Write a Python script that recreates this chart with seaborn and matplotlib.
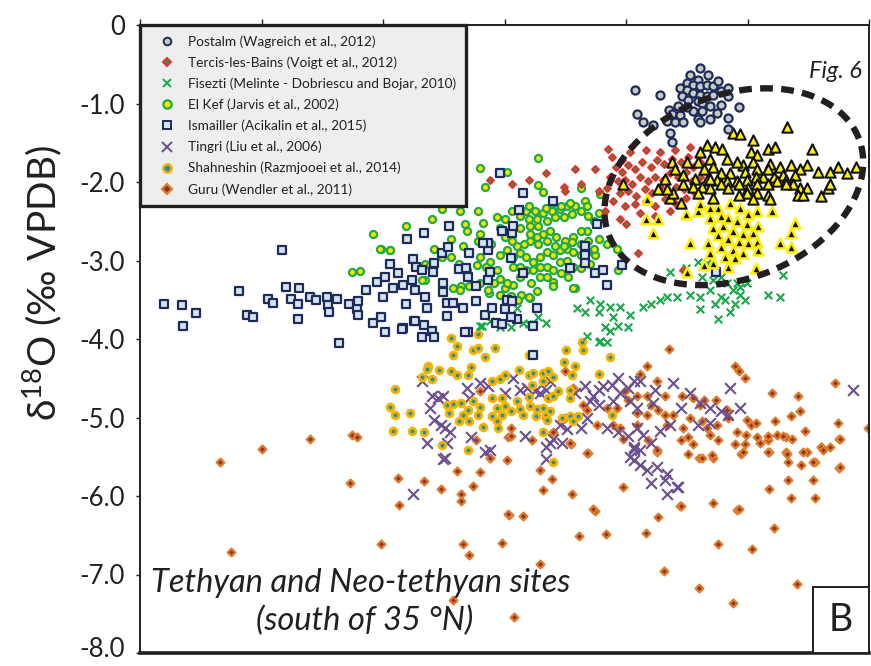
import numpy as np
import pandas as pd
import matplotlib
matplotlib.use("Agg")
import matplotlib.pyplot as plt
import matplotlib.transforms as mtransforms
import seaborn as sns
from matplotlib.lines import Line2D
from matplotlib.patches import Rectangle

# ---------------- data (x: unlabelled axis units, y: d18O permil VPDB) ----------------
postalm_x = [4.60, 4.67, 4.52, 4.58, 4.49, 4.54, 4.60, 4.66, 4.71, 4.75, 4.43, 4.49, 4.54, 4.60, 4.66,
             4.71, 4.77, 4.83, 4.45, 4.50, 4.58, 4.62, 4.68, 4.74, 4.42, 4.34, 4.37, 4.43, 4.33, 4.39,
             4.46, 4.58, 4.60, 4.83, 4.83, 4.92, 4.83, 4.06, 4.27, 4.08, 4.13, 4.21, 4.35, 4.37, 4.54,
             4.62, 4.49, 4.77, 4.68]
postalm_y = [-0.55, -0.64, -0.64, -0.70, -0.74, -0.76, -0.78, -0.76, -0.78, -0.71, -0.80, -0.83, -0.87, -0.89, -0.90,
             -0.89, -0.84, -0.80, -0.90, -0.95, -0.97, -0.99, -1.03, -1.12, -1.03, -1.08, -1.14, -1.15, -1.22, -1.24,
             -1.24, -1.20, -1.24, -0.90, -1.18, -1.05, -1.33, -0.83, -0.89, -1.14, -1.24, -1.27, -1.37, -1.49, -1.09,
             -1.09, -1.05, -1.02, -1.20]

tercis_x = [3.04, 3.18, 3.47, 3.56, 3.61, 3.73, 3.48, 3.84, 3.95, 3.88, 3.94, 3.99, 4.09, 4.46, 2.86, 3.32,
            3.76, 3.81, 3.85, 3.90, 3.95, 4.00, 4.06, 4.12, 4.19, 4.24, 4.30, 4.37, 4.44, 4.50, 3.92, 3.98,
            4.04, 4.10, 4.17, 4.23, 4.29, 4.35, 4.42, 4.48, 4.54, 3.94, 4.00, 4.07, 4.14, 4.20, 4.27, 4.34,
            4.40, 4.47, 4.53, 4.60, 3.98, 4.06, 4.15, 4.23, 4.31, 4.39, 4.48, 4.56, 4.10, 4.23, 4.35, 3.87,
            4.02, 4.15, 4.27, 4.39, 4.52, 4.60, 3.83]
tercis_y = [-2.03, -1.97, -2.06, -1.83, -2.02, -1.83, -2.11, -1.58, -1.72, -2.24, -2.47, -2.53, -2.90, -3.12, -1.97, -1.89,
            -2.12, -2.37, -1.93, -1.81, -1.87, -1.78, -1.84, -1.74, -1.81, -1.72, -1.77, -1.71, -1.74, -1.68, -1.99, -1.97,
            -2.02, -1.94, -1.99, -1.93, -1.97, -1.89, -1.94, -1.87, -1.81, -2.14, -2.12, -2.18, -2.09, -2.14, -2.07, -2.12,
            -2.06, -2.09, -1.99, -1.93, -2.31, -2.28, -2.24, -2.31, -2.22, -2.27, -2.21, -2.14, -2.40, -2.43, -2.37, -1.68,
            -1.62, -1.59, -1.62, -1.59, -1.55, -1.74, -2.08]

fisezti_x = [2.79, 2.94, 3.03, 3.08, 3.18, 3.26, 3.32, 3.13, 3.22, 2.78, 2.86, 3.58, 3.65, 3.66, 3.76, 3.77,
             3.81, 3.85, 3.85, 3.88, 3.77, 3.83, 3.76, 3.92, 4.00, 3.69, 3.94, 4.13, 4.33, 4.41, 4.60, 4.77,
             4.93, 4.87, 4.93, 4.91, 4.82, 4.71, 4.62, 4.58, 4.66, 4.35, 4.48, 4.77, 4.99, 5.29, 5.16, 5.26,
             4.75, 4.52, 4.68, 4.81, 4.89, 4.72, 4.60, 4.85, 4.97, 4.27, 4.19, 4.02]
fisezti_y = [-3.84, -3.85, -3.85, -3.60, -3.81, -3.72, -3.80, -3.80, -3.81, -3.84, -3.77, -3.60, -3.66, -3.96, -3.65, -3.56,
             -3.85, -3.59, -3.90, -3.72, -4.03, -4.04, -4.04, -3.84, -3.85, -3.50, -3.59, -3.59, -3.46, -3.47, -3.47, -3.46,
             -3.44, -3.37, -3.34, -3.29, -3.29, -3.25, -3.21, -3.02, -3.03, -3.15, -3.10, -3.21, -3.29, -3.19, -3.44, -3.46,
             -3.75, -3.44, -3.37, -3.50, -3.56, -3.56, -3.62, -3.65, -3.50, -3.50, -3.56, -3.69]

elkef_x = [3.26, 2.78, 3.00, 2.82, 3.26, 3.30, 3.61, 3.77, 3.65, 2.38, 2.16, 2.03, 1.96, 2.65, 2.80, 2.76,
           2.61, 2.46, 2.67, 2.54, 2.64, 2.76, 2.87, 2.78, 2.86, 2.94, 2.75, 2.83, 2.92, 2.67, 2.60, 2.54,
           2.46, 2.40, 2.32, 2.32, 2.62, 2.69, 2.78, 2.89, 2.94, 2.98, 3.05, 3.11, 3.20, 3.25, 3.12, 2.85,
           2.94, 3.03, 3.09, 3.19, 3.27, 3.38, 3.38, 3.56, 3.61, 3.69, 3.73, 3.83, 3.91, 3.92, 3.76, 3.66,
           3.61, 3.55, 3.48, 3.41, 3.36, 3.30, 3.25, 3.19, 3.14, 3.08, 3.04, 2.98, 3.04, 3.11, 3.19, 3.26,
           3.33, 3.40, 3.47, 3.54, 3.61, 3.67, 3.72, 3.76, 3.66, 3.56, 3.50, 3.44, 3.37, 3.30, 3.23, 3.16,
           3.11, 3.04, 2.98, 2.92, 2.94, 3.00, 3.05, 3.11, 3.16, 3.22, 3.27, 3.33, 3.38, 3.44, 3.50, 3.55,
           3.61, 3.66, 3.72, 3.44, 3.50, 3.55, 3.33, 3.27, 3.22, 3.16, 3.38, 3.45, 3.51, 3.33, 3.11, 3.05,
           3.11, 3.18, 3.25, 3.32, 3.18, 3.38, 3.45, 3.52, 3.19, 3.26, 3.33, 3.40, 3.47, 3.54, 3.61, 3.67,
           1.89, 1.95, 2.03, 1.72, 1.78, 2.30, 2.36, 2.55, 2.61, 2.78, 2.84, 2.94, 3.00, 3.18, 3.55, 3.25]
elkef_y = [-1.70, -1.82, -1.87, -2.06, -2.04, -2.13, -2.08, -2.15, -2.24, -2.47, -2.56, -2.86, -2.85, -2.54, -2.52, -2.37,
           -2.37, -2.35, -2.62, -2.73, -2.81, -2.75, -2.79, -2.96, -3.02, -2.93, -3.06, -3.08, -3.12, -3.12, -3.04, -2.96,
           -2.96, -2.85, -3.04, -3.25, -3.33, -3.33, -3.29, -3.29, -3.23, -3.35, -3.31, -3.21, -3.29, -3.39, -3.44, -3.41,
           -3.44, -3.45, -3.50, -3.48, -3.21, -3.27, -3.33, -3.35, -3.10, -3.04, -2.93, -2.79, -2.85, -3.12, -2.73, -2.62,
           -2.62, -2.70, -2.75, -2.70, -2.62, -2.66, -2.70, -2.75, -2.79, -2.81, -2.75, -2.70, -2.62, -2.58, -2.56, -2.56,
           -2.50, -2.45, -2.45, -2.41, -2.37, -2.43, -2.50, -2.39, -2.31, -2.31, -2.31, -2.35, -2.37, -2.39, -2.37, -2.37,
           -2.35, -2.37, -2.47, -2.45, -2.58, -2.87, -2.96, -2.91, -2.96, -3.02, -2.96, -2.89, -2.93, -2.87, -2.85, -2.89,
           -2.93, -2.89, -2.85, -3.02, -3.00, -3.08, -3.08, -3.08, -3.12, -3.12, -3.12, -3.16, -3.21, -3.21, -3.08, -3.08,
           -2.43, -2.47, -2.47, -2.33, -2.31, -2.27, -2.31, -2.27, -2.66, -2.79, -2.75, -2.81, -2.81, -2.77, -2.79, -2.75,
           -2.66, -2.85, -2.86, -3.15, -3.14, -3.25, -3.06, -3.35, -3.37, -2.66, -3.37, -3.44, -3.29, -3.46, -3.35, -3.59]

ismailler_x = [0.16, 0.31, 0.42, 0.32, 0.78, 0.85, 0.90, 1.14, 1.02, 1.06, 1.17, 1.21, 1.28, 1.27, 1.27, 1.37,
               1.42, 1.51, 1.52, 1.53, 1.59, 1.61, 1.69, 1.76, 1.77, 1.77, 1.83, 1.89, 1.96, 1.99, 1.92, 1.97,
               1.99, 2.06, 2.03, 2.10, 2.14, 2.16, 2.14, 2.22, 2.25, 2.21, 2.24, 2.31, 2.30, 2.32, 2.34, 2.23,
               2.31, 2.38, 2.40, 2.30, 2.17, 2.40, 2.39, 2.46, 2.51, 2.52, 2.47, 2.47, 2.50, 2.50, 2.55, 2.64,
               2.68, 2.60, 2.66, 2.69, 2.68, 2.74, 2.74, 2.82, 2.84, 2.84, 2.80, 2.86, 2.84, 2.88, 2.91, 2.96,
               2.96, 3.04, 3.05, 3.03, 3.10, 3.13, 3.00, 3.04, 2.98, 3.08, 3.03, 3.22, 3.25, 3.38, 3.52, 3.65,
               3.65, 3.65, 3.75, 3.73, 3.80, 3.83, 2.94, 3.13, 3.95, 4.73, 3.22, 2.13, 2.24, 2.65]
ismailler_y = [-3.55, -3.57, -3.67, -3.84, -3.39, -3.69, -3.72, -2.86, -3.49, -3.54, -3.34, -3.49, -3.35, -3.56, -3.74, -3.46,
               -3.50, -3.46, -3.57, -3.66, -3.49, -4.05, -3.55, -3.62, -3.69, -3.52, -3.37, -3.79, -3.72, -3.91, -3.27, -3.46,
               -3.21, -3.35, -3.05, -3.16, -3.31, -3.56, -3.86, -2.98, -3.08, -3.25, -3.37, -2.65, -3.12, -3.47, -3.60, -3.77,
               -3.82, -3.90, -3.98, -3.98, -2.73, -3.03, -3.15, -2.91, -2.83, -2.56, -3.29, -3.40, -3.54, -3.71, -3.54, -3.61,
               -3.91, -3.11, -3.10, -2.91, -3.21, -3.32, -3.52, -3.69, -2.87, -2.78, -2.78, -3.15, -3.25, -3.60, -3.79, -3.81,
               -2.62, -2.65, -2.56, -2.97, -2.36, -3.16, -3.50, -3.52, -3.62, -3.75, -3.72, -3.84, -3.60, -2.24, -3.10, -2.81,
               -2.93, -3.03, -2.53, -3.16, -3.12, -3.31, -1.89, -2.14, -3.06, -3.15, -4.21, -3.87, -3.77, -3.91]

tingri_x = [2.30, 2.38, 2.43, 2.47, 2.36, 2.40, 2.45, 2.49, 2.53, 2.34, 2.49, 2.22, 2.67, 2.69, 2.78, 2.84,
            3.05, 3.11, 3.17, 3.23, 3.27, 3.32, 3.36, 3.44, 3.61, 3.66, 3.71, 3.76, 3.80, 3.87, 3.92, 4.00,
            4.05, 4.10, 4.38, 3.76, 3.69, 3.88, 4.02, 4.08, 3.83, 3.92, 4.00, 4.08, 4.13, 4.05, 4.10, 4.05,
            4.16, 4.24, 4.19, 4.31, 4.41, 4.33, 4.19, 4.27, 4.35, 4.44, 4.58, 4.68, 4.77, 4.83, 4.85, 5.87,
            2.86, 2.50, 3.32, 3.38, 3.50, 4.21, 2.47, 2.82, 2.70, 3.15, 3.36, 3.46, 3.32, 4.02, 4.10, 4.33,
            4.42, 4.05, 2.98, 3.56, 3.65, 3.94, 4.23, 4.52, 4.60, 4.68, 4.93]
tingri_y = [-4.54, -4.73, -4.75, -4.72, -4.88, -5.03, -5.09, -5.13, -5.19, -5.32, -5.52, -5.98, -4.63, -4.75, -4.56, -4.60,
            -4.50, -4.65, -4.63, -4.66, -4.69, -4.65, -4.54, -5.09, -5.13, -5.00, -4.72, -4.65, -4.60, -4.59, -4.50, -4.63,
            -4.54, -4.53, -4.56, -4.84, -4.79, -4.79, -4.79, -4.88, -5.13, -5.19, -5.23, -5.13, -5.22, -5.40, -5.42, -5.54,
            -5.67, -5.63, -5.84, -5.79, -5.88, -5.72, -5.32, -5.17, -5.10, -4.88, -5.10, -4.88, -4.92, -4.97, -4.63, -4.65,
            -5.42, -5.32, -5.38, -5.28, -5.15, -4.82, -5.53, -5.44, -5.25, -5.23, -5.32, -5.32, -5.53, -5.50, -5.61, -5.98,
            -5.88, -5.38, -4.69, -4.69, -4.60, -4.69, -4.65, -4.69, -4.82, -5.07, -4.88]

shahneshin_x = [2.76, 2.54, 2.59, 2.72, 2.76, 2.90, 2.55, 2.82, 2.35, 2.34, 2.44, 2.54, 2.70, 2.30, 2.38, 2.59,
                2.68, 2.88, 2.94, 2.98, 3.10, 3.18, 3.18, 3.22, 3.30, 3.34, 3.38, 3.21, 3.30, 3.47, 3.49, 3.56,
                3.54, 3.62, 3.63, 3.85, 3.76, 2.07, 2.03, 2.07, 2.20, 2.06, 2.21, 2.31, 2.46, 2.68, 2.50, 2.55,
                2.62, 2.68, 2.72, 2.78, 2.52, 2.64, 2.76, 2.60, 2.69, 2.80, 2.88, 2.96, 2.92, 2.88, 2.92, 2.96,
                2.93, 2.98, 3.03, 3.08, 3.11, 3.13, 3.18, 3.19, 3.25, 3.30, 3.32, 3.36, 3.33, 3.24, 3.34, 3.38,
                3.42, 3.46, 3.52, 3.55, 3.59, 3.52, 3.52, 3.30, 3.38, 3.87]
shahneshin_y = [-3.94, -3.99, -4.09, -4.14, -4.11, -4.11, -4.20, -4.23, -4.34, -4.38, -4.39, -4.41, -4.36, -4.48, -4.51, -4.46,
                -4.46, -4.54, -4.51, -4.46, -4.40, -4.21, -4.46, -4.43, -4.43, -4.41, -4.49, -4.59, -4.54, -4.29, -4.14, -4.35,
                -4.46, -4.04, -4.14, -4.23, -4.44, -4.64, -4.87, -4.97, -4.94, -5.17, -5.17, -5.19, -5.35, -5.42, -4.84, -4.83,
                -4.82, -4.90, -4.79, -4.87, -4.94, -4.97, -4.97, -5.04, -5.04, -5.12, -4.75, -4.75, -4.88, -4.98, -5.04, -4.97,
                -5.13, -4.85, -4.92, -4.79, -4.89, -4.97, -4.74, -4.85, -4.89, -4.88, -4.97, -4.92, -5.03, -4.98, -4.75, -4.72,
                -4.66, -5.00, -4.98, -5.04, -4.98, -4.65, -4.75, -5.19, -5.57, -4.97]

guru_x = [0.62, 0.97, 1.37, 1.72, 1.76, 0.71, 1.70, 1.96, 2.10, 2.11, 2.31, 2.45, 2.55, 2.62, 2.62, 2.64,
          2.69, 2.72, 2.78, 2.86, 2.96, 3.00, 3.02, 3.06, 3.13, 3.27, 3.27, 3.30, 3.37, 3.54, 3.60, 3.73,
          3.82, 3.96, 4.15, 4.25, 4.30, 4.43, 4.59, 4.71, 4.75, 4.87, 4.91, 5.03, 5.21, 5.40, 5.55, 5.17,
          5.33, 5.75, 5.55, 5.44, 5.33, 5.17, 5.31, 5.49, 5.60, 5.75, 5.68, 4.94, 4.97, 4.59, 4.71, 4.50,
          5.16, 5.31, 4.75, 4.24, 3.96, 3.67, 3.53, 3.21, 3.01, 2.74, 4.44, 4.91, 4.98, 4.34, 4.16, 3.48,
          4.10, 4.24, 4.89, 4.92, 4.97, 5.72, 5.20, 5.41, 5.99, 2.78, 3.32, 3.46, 3.03, 3.03, 2.86, 2.59,
          3.66, 3.75, 3.66, 3.52, 3.38, 3.48, 3.55, 3.63, 3.83, 3.91, 3.88, 3.94, 3.98, 4.00, 4.08, 4.08,
          4.08, 4.16, 4.19, 4.25, 4.16, 4.17, 4.24, 4.31, 4.31, 4.33, 4.38, 4.45, 4.46, 4.52, 4.54, 4.60,
          4.63, 4.50, 4.54, 4.62, 4.66, 4.68, 4.73, 4.74, 4.70, 4.62, 4.82, 4.83, 4.89, 4.96, 4.99, 5.02,
          5.06, 5.07, 5.10, 5.16, 5.16, 5.22, 5.24, 5.29, 5.32, 5.35, 5.36, 5.43, 5.47, 5.54, 5.60, 5.62,
          5.74, 5.76, 5.45, 5.54, 5.76, 5.35, 4.44, 4.92, 3.71, 3.01]
guru_y = [-5.57, -5.40, -5.28, -5.22, -5.25, -6.71, -5.83, -6.61, -5.77, -6.12, -5.81, -5.91, -7.32, -5.98, -6.06, -6.61,
          -6.75, -5.87, -5.69, -5.52, -6.60, -5.54, -6.24, -7.54, -6.26, -5.67, -6.87, -5.92, -5.78, -5.98, -6.51, -6.19,
          -6.48, -5.88, -6.47, -6.27, -6.96, -6.13, -7.17, -6.09, -6.61, -7.36, -6.18, -6.67, -6.41, -7.12, -6.03, -5.91,
          -5.79, -5.64, -5.57, -5.61, -5.57, -5.44, -5.44, -5.44, -5.38, -5.28, -5.38, -5.47, -5.34, -5.51, -5.51, -5.47,
          -5.29, -5.25, -5.29, -5.44, -5.28, -5.45, -5.34, -5.29, -5.25, -5.29, -5.29, -5.19, -5.22, -4.13, -4.35, -4.41,
          -4.45, -4.53, -4.35, -4.41, -4.50, -4.56, -4.69, -4.72, -5.13, -4.66, -5.00, -5.03, -5.13, -5.24, -5.51, -5.68,
          -5.45, -5.09, -4.90, -5.33, -5.19, -5.00, -4.63, -4.84, -4.88, -4.88, -5.09, -5.13, -4.66, -4.78, -4.73, -4.94,
          -5.09, -4.72, -4.84, -4.90, -4.97, -5.29, -5.42, -4.73, -4.97, -5.09, -4.97, -4.73, -5.13, -5.00, -4.75, -4.84,
          -4.78, -5.25, -5.34, -5.04, -5.13, -5.22, -4.78, -5.09, -5.48, -5.51, -4.90, -5.00, -5.34, -5.44, -5.03, -5.09,
          -5.07, -5.25, -5.32, -5.23, -5.44, -5.04, -5.22, -5.23, -5.47, -4.98, -5.28, -4.92, -5.17, -5.57, -5.38, -5.42,
          -5.07, -5.28, -5.44, -5.79, -5.63, -6.03, -6.13, -6.17, -6.17, -6.23]

fig6_yellow_x = [5.32, 4.87, 4.93, 5.04, 5.53, 4.66, 4.72, 4.78, 4.60, 5.16, 5.22, 5.02, 5.07, 5.04, 4.96, 4.82,
                 4.91, 4.68, 4.58, 4.49, 4.37, 4.39, 4.63, 4.71, 4.77, 4.85, 4.97, 5.07, 5.18, 5.26, 5.35, 5.49,
                 5.58, 5.68, 5.74, 5.82, 5.89, 5.43, 5.39, 5.29, 5.21, 5.12, 5.06, 4.99, 4.91, 4.82, 4.74, 4.66,
                 4.56, 4.46, 4.31, 4.25, 4.35, 4.44, 4.46, 4.54, 4.62, 4.68, 4.77, 4.83, 4.92, 5.00, 5.07, 5.16,
                 5.24, 5.31, 5.37, 5.43, 5.49, 5.41, 5.45, 5.60, 5.66, 5.68, 3.96, 4.38, 4.58, 4.71, 4.99, 5.07,
                 5.16, 5.04, 5.18, 4.92, 4.33, 4.68, 5.16, 5.31]
fig6_yellow_y = [-1.30, -1.37, -1.39, -1.47, -1.58, -1.53, -1.55, -1.58, -1.62, -1.58, -1.55, -1.62, -1.66, -1.74, -1.78, -1.71,
                 -1.74, -1.71, -1.74, -1.74, -1.74, -1.84, -1.84, -1.81, -1.89, -1.89, -1.87, -1.84, -1.77, -1.81, -1.78, -1.78,
                 -1.87, -1.87, -1.81, -1.89, -1.81, -1.84, -1.91, -1.91, -1.93, -1.93, -1.93, -1.97, -1.99, -1.99, -1.97, -1.97,
                 -1.96, -1.91, -1.96, -2.09, -2.21, -2.27, -2.03, -2.06, -2.06, -2.08, -2.02, -2.08, -2.03, -2.08, -2.03, -2.02,
                 -1.99, -1.97, -2.02, -2.08, -2.08, -2.16, -2.16, -2.18, -2.08, -2.03, -2.03, -2.14, -2.14, -2.21, -2.14, -2.14,
                 -2.16, -2.22, -2.22, -2.16, -2.09, -1.96, -1.84, -2.03]

fig6_black_x = [4.16, 4.15, 4.25, 4.21, 4.48, 4.58, 4.75, 4.85, 4.93, 5.00, 5.07, 5.20, 4.68, 4.77, 4.83, 4.91,
                4.99, 5.08, 5.39, 5.35, 4.71, 4.79, 4.87, 4.96, 5.04, 4.75, 4.83, 4.92, 5.00, 5.07, 4.52, 4.67,
                4.77, 4.87, 4.96, 5.08, 5.26, 5.35, 4.68, 4.81, 4.89, 4.63, 4.71, 4.83, 5.06, 4.49, 4.60, 4.68]
fig6_black_y = [-2.22, -2.47, -2.47, -2.65, -2.41, -2.37, -2.33, -2.27, -2.33, -2.41, -2.37, -2.37, -2.46, -2.43, -2.46, -2.50,
                -2.53, -2.56, -2.52, -2.65, -2.58, -2.56, -2.62, -2.66, -2.65, -2.68, -2.72, -2.77, -2.78, -2.77, -2.78, -2.78,
                -2.83, -2.87, -2.90, -2.87, -2.78, -2.83, -2.91, -2.96, -2.97, -3.06, -3.03, -3.08, -3.10, -3.15, -2.28, -2.33]

site_labels = ["Postalm (Wagreich et al., 2012)",
               "Tercis-les-Bains (Voigt et al., 2012)",
               "Fisezti (Melinte - Dobriescu and Bojar, 2010)",
               "El Kef (Jarvis et al., 2002)",
               "Ismailler (Acikalin et al., 2015)",
               "Tingri (Liu et al., 2006)",
               "Shahneshin (Razmjooei et al., 2014)",
               "Guru (Wendler et al., 2011)"]
yticks = [0, -1, -2, -3, -4, -5, -6, -7, -8]
ytick_labels = ["0", "-1.0", "-2.0", "-3.0", "-4.0", "-5.0", "-6.0", "-7.0", "-8.0"]
x_min, x_max = -0.04, 6.0          # unlabelled x axis range
x_tick_count = 7

# ---------------- styling ----------------
sns.set_theme(style="white")
plt.rcParams['font.family'] = ['Lato', 'DejaVu Sans']
plt.rcParams['mathtext.fontset'] = 'custom'
plt.rcParams['mathtext.rm'] = 'Lato'
plt.rcParams['mathtext.it'] = 'Lato:italic'
TXT = '#231f20'
NAVY = '#1f2a5c'

fig = plt.figure(figsize=(8.71, 6.66), dpi=100)
ax = fig.add_axes([140/871, 13/666, 729/871, 628/666])
ax.set_xlim(x_min, x_max)
ax.set_ylim(-8, 0)

styles = {
    "guru":       dict(marker='D', s=16, color='#9b2c1c', edgecolor='#dc7f2e', linewidth=1.6, zorder=2),
    "tingri":     dict(marker='x', s=60, color='#6a4f8e', linewidth=1.5, zorder=3),
    "shahneshin": dict(marker='o', s=24, color='#2f8e9c', edgecolor='#f5b400', linewidth=2.0, zorder=4),
    "fisezti":    dict(marker='x', s=30, color='#19a84a', linewidth=1.5, zorder=5),
    "elkef":      dict(marker='o', s=26, color='#f3e600', edgecolor='#22a94a', linewidth=1.6, zorder=6),
    "ismailler":  dict(marker='s', s=34, color='#d3e4f1', edgecolor=NAVY, linewidth=1.6, zorder=7),
    "tercis":     dict(marker='D', s=12, color='#2a9a48', edgecolor='#ea2d2a', linewidth=1.5, zorder=8),
    "fig6_black": dict(marker='^', s=50, color='#111111', edgecolor='#fff000', linewidth=1.8, zorder=9),
    "fig6_yellow": dict(marker='^', s=55, color='#fff200', edgecolor='#111111', linewidth=1.5, zorder=10),
    "postalm":    dict(marker='o', s=34, color='#c6ccbf', edgecolor=NAVY, linewidth=1.6, zorder=11),
}
series = {
    "guru": (guru_x, guru_y), "tingri": (tingri_x, tingri_y),
    "shahneshin": (shahneshin_x, shahneshin_y), "fisezti": (fisezti_x, fisezti_y),
    "elkef": (elkef_x, elkef_y), "ismailler": (ismailler_x, ismailler_y),
    "tercis": (tercis_x, tercis_y), "fig6_black": (fig6_black_x, fig6_black_y),
    "fig6_yellow": (fig6_yellow_x, fig6_yellow_y), "postalm": (postalm_x, postalm_y),
}
for name, (xs, ys) in series.items():
    df = pd.DataFrame({"x": xs, "y": ys})
    sns.scatterplot(data=df, x="x", y="y", ax=ax, legend=False, **styles[name])

# dashed ellipse (Fig. 6 field): centre in data units, semi-axes in pixels
sx = ax.bbox.width / (x_max - x_min)
sy = ax.bbox.height / 8.0
ell_cx, ell_cy, ell_a, ell_b, ell_ang = 4.88, -2.06, 134.0, 92.0, np.deg2rad(21)
t = np.linspace(0, 2 * np.pi, 500)
dx = ell_a * np.cos(t) * np.cos(ell_ang) - ell_b * np.sin(t) * np.sin(ell_ang)
dy = ell_a * np.cos(t) * np.sin(ell_ang) + ell_b * np.sin(t) * np.cos(ell_ang)
ax.plot(ell_cx + dx / sx, ell_cy + dy / sy, color=TXT, lw=4.6, dashes=(2.0, 1.3),
        dash_capstyle='butt', zorder=20, clip_on=False)

# axes styling
ax.set_xlabel("")
ax.set_yticks(yticks)
ax.set_yticklabels(ytick_labels)
ax.set_xticks(np.linspace(x_min, x_max, x_tick_count))
ax.tick_params(axis='y', direction='out', length=3, width=1.0, color=TXT,
               labelsize=18.5, labelcolor=TXT, pad=8, left=True)
ax.tick_params(axis='x', direction='out', length=4, width=1.0, color=TXT,
               bottom=False, labelbottom=False, top=True, labeltop=False)
for side in ['left', 'right', 'top']:
    ax.spines[side].set_color(TXT)
    ax.spines[side].set_linewidth(1.4)
ax.spines['bottom'].set_color(TXT)
ax.spines['bottom'].set_linewidth(2.6)
ax.grid(False)

# keep the lowest tick label inside the canvas (nudge up by a few pixels)
lowest = ax.get_yticklabels()[-1]
lowest.set_transform(lowest.get_transform() +
                     mtransforms.ScaledTranslation(0, 4/72, fig.dpi_scale_trans))

ax.set_ylabel("δ$^{18}$O (‰ VPDB)", fontsize=28, color=TXT)
ax.yaxis.set_label_coords(-0.104, 0.589)

# legend
handles = [
    Line2D([], [], ls='', marker='o', ms=5.5, mfc='#c6ccbf', mec=NAVY, mew=1.4),
    Line2D([], [], ls='', marker='D', ms=4.5, mfc='#2a9a48', mec='#ea2d2a', mew=1.4),
    Line2D([], [], ls='', marker='x', ms=5.5, color='#19a84a', mew=1.4),
    Line2D([], [], ls='', marker='o', ms=6, mfc='#f3e600', mec='#22a94a', mew=1.6),
    Line2D([], [], ls='', marker='s', ms=5.5, mfc='#d3e4f1', mec=NAVY, mew=1.4),
    Line2D([], [], ls='', marker='x', ms=6.5, color='#6a4f8e', mew=1.4),
    Line2D([], [], ls='', marker='o', ms=6, mfc='#2f8e9c', mec='#f5b400', mew=1.8),
    Line2D([], [], ls='', marker='D', ms=5, mfc='#9b2c1c', mec='#dc7f2e', mew=1.6),
]
leg = ax.legend(handles, site_labels, loc='upper left', bbox_to_anchor=(0, 1),
                borderaxespad=0, fontsize=9.8, frameon=True, fancybox=False,
                borderpad=0.75, handlelength=2.4, handletextpad=0.35, labelspacing=0.63,
                labelcolor=TXT)
leg.get_frame().set_facecolor('#eeeeee')
leg.get_frame().set_edgecolor(TXT)
leg.get_frame().set_linewidth(2.4)
leg.get_frame().set_alpha(1)
leg.set_zorder(30)

# annotations
ax.text(862/871, 1 - 72/666, "Fig. 6", transform=fig.transFigure, fontsize=17,
        style='italic', color=TXT, ha='right', va='center', zorder=31)
ax.text(361/871, 1 - 583/666, "Tethyan and Neo-tethyan sites", transform=fig.transFigure,
        fontsize=23.5, style='italic', color=TXT, ha='center', va='center', zorder=31)
ax.text(365/871, 1 - 621/666, "(south of 35 °N)", transform=fig.transFigure,
        fontsize=23.5, style='italic', color=TXT, ha='center', va='center', zorder=31)
bx0 = (813 - 140) / 729
by1 = (653 - 587) / 628
ax.add_patch(Rectangle((bx0, 0), 1 - bx0, by1, transform=ax.transAxes, fill=True,
                       facecolor='white', edgecolor=TXT, lw=1.4, zorder=31))
ax.text(bx0 + (1 - bx0) / 2, by1 / 2, "B", transform=ax.transAxes, fontsize=27,
        color=TXT, ha='center', va='center', zorder=32)

fig.savefig("out.png", dpi=100)
